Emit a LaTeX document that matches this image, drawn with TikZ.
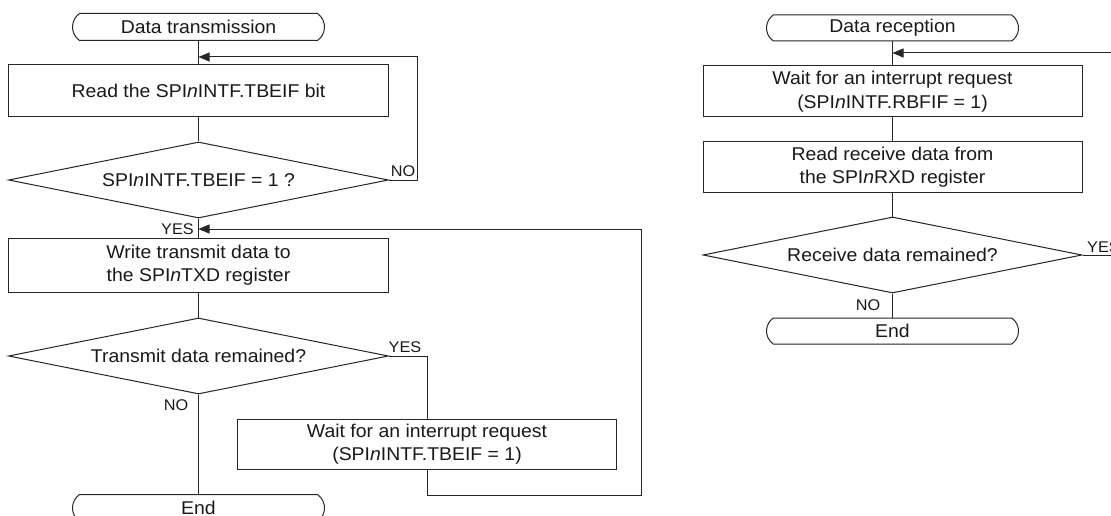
\documentclass[tikz,border=0pt]{standalone}
\usepackage{fontspec}
\setmainfont{Liberation Sans}[FakeStretch=1.05]
\usetikzlibrary{shapes.geometric,shapes.misc,arrows.meta}
\newcommand\figfont{\fontsize{18.5}{23.5}\selectfont}
\newcommand\lblfont{\fontsize{15.5}{18}\selectfont}
\tikzset{
  ln/.style={line width=1pt, draw=black!85},
  arr/.style={ln, -{Triangle[length=11pt,width=9pt]}},
  procbox/.style={ln, rectangle, minimum width=380pt, minimum height=52pt, inner sep=0pt, align=center, font=\figfont, text=black!90},
  decbox/.style={ln, diamond, aspect=5, minimum width=380pt, minimum height=76pt, inner sep=0pt, align=center, font=\figfont, text=black!90},
  termbox/.style={ln, rounded rectangle, rounded rectangle arc length=110, minimum width=252pt, minimum height=27pt, inner sep=0pt, font=\figfont, text=black!90},
  lbl/.style={inner sep=0pt, font=\lblfont, text=black!90}
}
\begin{document}
\begin{tikzpicture}[x=1pt,y=-1pt]
\useasboundingbox (0,0) rectangle (1111,516);
% ---------- Data transmission ----------
\node[termbox] (t1) at (198.5,27) {Data transmission};
\node[procbox] (b1) at (198.5,91) {Read the SPI\textit{n}INTF.TBEIF bit};
\node[decbox] (d1) at (198.5,180) {SPI\textit{n}INTF.TBEIF = 1 ?};
\node[procbox, minimum height=54pt] (b2) at (198.5,265) {Write transmit data to\\the SPI\textit{n}TXD register};
\node[decbox] (d2) at (198.5,356) {Transmit data remained?};
\node[procbox, minimum height=50pt, minimum width=379pt] (b3) at (427,444) {Wait for an interrupt request\\(SPI\textit{n}INTF.TBEIF = 1)};
\node[termbox] (t2) at (198.5,508) {End};
\coordinate (m1) at (198.5,57);
\coordinate (m2) at (198.5,229);
\coordinate (c1) at (641,495);
\draw[ln] (t1.south) -- (b1.north);
\draw[ln] (b1.south) -- (d1.north);
\draw[arr] (d1.east) -- ++(28.5,0) |- (m1);
\draw[ln] (d1.south) -- (b2.north);
\draw[ln] (b2.south) -- (d2.north);
\draw[ln] (d2.east) -| (b3.north);
\draw[arr] (b3.south) |- (c1) |- (m2);
\draw[ln] (d2.south) -- (t2.north);
\node[lbl] (no1) at (403,171) {NO};
\node[lbl, anchor=east] (yes1) at (194,229) {YES};
\node[lbl] (yes2) at (405,347) {YES};
\node[lbl] (no2) at (176,405) {NO};
% ---------- Data reception ----------
\node[termbox, minimum height=26pt] (t3) at (892.5,28) {Data reception};
\node[procbox, minimum width=379pt, minimum height=51pt] (r1) at (892.5,91.5) {Wait for an interrupt request\\(SPI\textit{n}INTF.RBFIF = 1)};
\node[procbox, minimum width=379pt, minimum height=50pt] (r2) at (892.5,167) {Read receive data from\\the SPI\textit{n}RXD register};
\node[decbox, minimum width=379pt] (d3) at (892.5,255) {Receive data remained?};
\node[termbox, minimum height=26pt] (t4) at (892.5,331) {End};
\coordinate (m3) at (892.5,53);
\coordinate (rin) at (1111,53);
\coordinate (rout) at (1111,255);
\draw[ln] (t3.south) -- (r1.north);
\draw[arr] (rin) -- (m3);
\draw[ln] (r1.south) -- (r2.north);
\draw[ln] (r2.south) -- (d3.north);
\draw[ln] (d3.south) -- (t4.north);
\draw[ln] (d3.east) -- (rout);
\node[lbl, anchor=west] (yes3) at (1087,247) {YES};
\node[lbl] (no3) at (868,305) {NO};
\end{tikzpicture}
\end{document}
